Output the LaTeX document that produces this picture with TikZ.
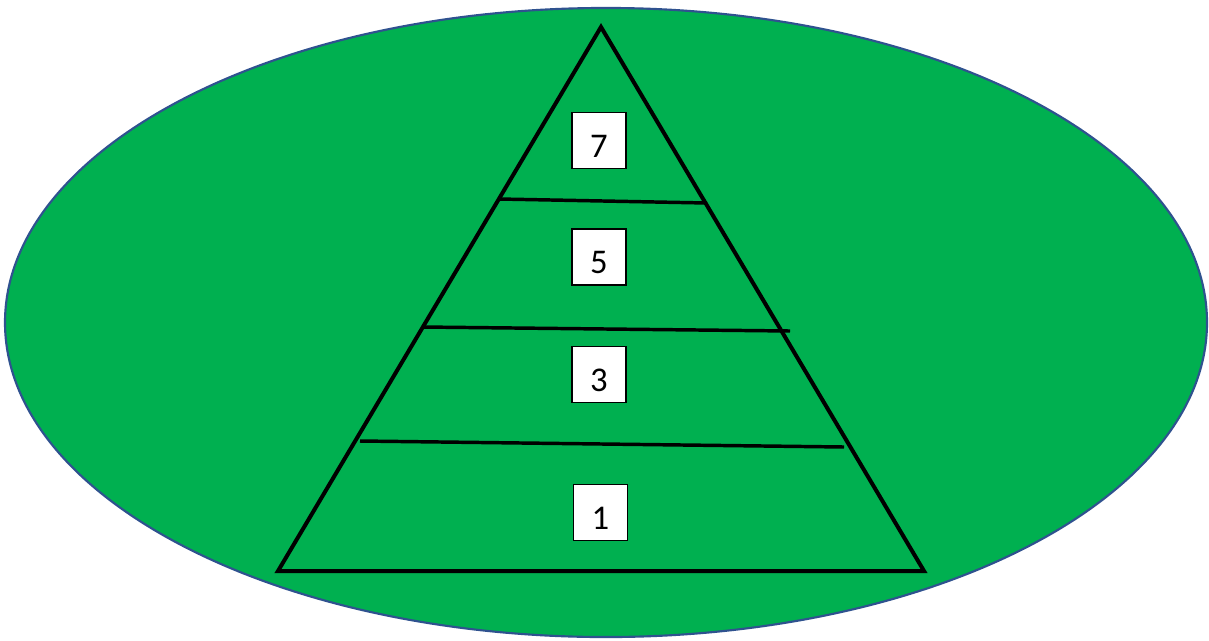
\documentclass[tikz,border=0pt]{standalone}
\usepackage{fontspec}
\setmainfont{Carlito}
\definecolor{ovalgreen}{HTML}{00B050}
\definecolor{ovalblue}{HTML}{2F528F}
\begin{document}
\begin{tikzpicture}[x=0.75pt,y=-0.75pt,
  numbox/.style={draw=black,line width=0.9pt,fill=white,minimum width=40.5pt,minimum height=42pt,inner sep=0pt,text height=25pt,text depth=0pt,font=\fontsize{26}{28}\selectfont},
  tri/.style={draw=black,line width=3pt,line join=miter},
  band/.style={draw=black,line width=2.6pt}]
\useasboundingbox (0,0) rectangle (1209,640);
\fill[white] (0,0) rectangle (1209,640);
\coordinate (c) at (606,322.5);
\draw[fill=ovalgreen,draw=ovalblue,line width=1.6pt] (c) ellipse [x radius=450.75pt, y radius=235.9pt];
\coordinate (apex) at (601,27);
\coordinate (bl) at (278,571);
\coordinate (br) at (924,571);
\draw[tri] (apex) -- (br) -- (bl) -- cycle;
\coordinate (l1a) at (499,199); \coordinate (l1b) at (707,203);
\coordinate (l2a) at (422,327); \coordinate (l2b) at (790,331);
\coordinate (l3a) at (360,441); \coordinate (l3b) at (844,447);
\draw[band] (l1a) -- (l1b);
\draw[band] (l2a) -- (l2b);
\draw[band] (l3a) -- (l3b);
\node[numbox] (n7) at (599,140.5) {7};
\node[numbox] (n5) at (599,257) {5};
\node[numbox] (n3) at (599,374.5) {3};
\node[numbox] (n1) at (600.5,512.5) {1};
\end{tikzpicture}
\end{document}
